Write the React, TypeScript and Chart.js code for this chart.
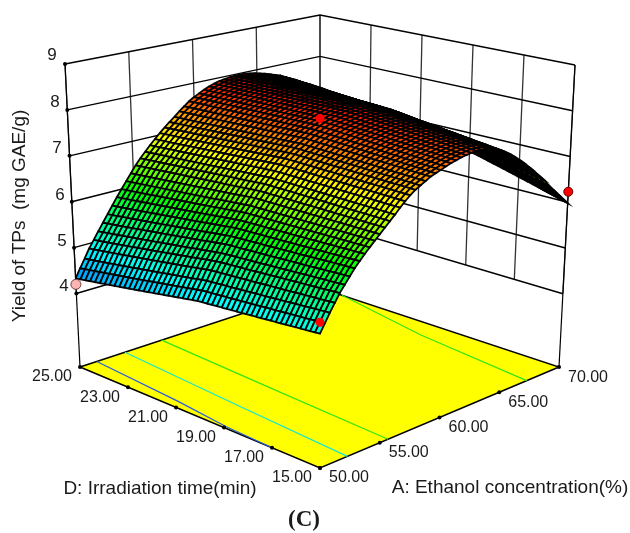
import React, { useEffect, useRef } from "react";
import { Chart, registerables } from "chart.js";

Chart.register(...registerables);

// Axis values
const ethanolTicks = [50, 55, 60, 65, 70];
const timeTicks = [25, 23, 21, 19, 17, 15];
const yieldTicks = [4, 5, 6, 7, 8, 9];
const yieldFloor = 2.4;
const yieldTop = 9;

// Surface height read along three cuts, at 51 mesh columns from A=50 to A=70.
const yieldAtD25 = [4.33,4.52,4.70,4.89,5.05,5.21,5.37,5.53,5.69,5.85,6.00,6.15,6.30,6.45,6.58,6.70,6.82,6.93,7.04,7.14,7.24,7.33,7.43,7.52,7.61,7.68,7.74,7.80,7.85,7.89,7.92,7.94,7.96,7.97,7.97,7.97,7.95,7.93,7.90,7.87,7.83,7.79,7.75,7.69,7.63,7.57,7.50,7.44,7.38,7.31,7.25];
const yieldAtD20 = [4.79,4.97,5.14,5.32,5.48,5.62,5.77,5.91,6.05,6.18,6.31,6.43,6.56,6.68,6.80,6.91,7.02,7.13,7.23,7.32,7.40,7.47,7.55,7.62,7.68,7.74,7.79,7.83,7.87,7.90,7.93,7.94,7.95,7.95,7.94,7.92,7.88,7.84,7.78,7.72,7.65,7.58,7.50,7.41,7.32,7.23,7.12,7.03,6.93,6.83,6.74];
const yieldAtD15 = [5.00,5.17,5.34,5.50,5.66,5.79,5.92,6.05,6.16,6.27,6.37,6.47,6.57,6.67,6.77,6.87,6.98,7.08,7.17,7.25,7.31,7.37,7.43,7.47,7.51,7.55,7.59,7.62,7.65,7.67,7.69,7.70,7.70,7.69,7.66,7.62,7.56,7.50,7.42,7.33,7.23,7.12,7.01,6.89,6.77,6.65,6.50,6.37,6.24,6.11,5.98];

// Design points: [A, D, yield]
const designAbove: number[][] = [[50, 15, 5.22], [70, 25, 6.5]];
const designEdge: number[][] = [[70, 15, 6.23]];
const designBelow: number[][] = [[50, 25, 4.2]];

// Floor contours: [A, D]
const contourBlue = [[51.4, 25], [50.74, 21.3], [50.2, 19], [50, 17]];
const contourCyan = [[53.75, 25], [52.95, 20], [52.3, 15]];
const contourGreenA = [[56.8, 25], [56.2, 20], [55.7, 15]];
const contourGreenB = [[70, 24.08], [68.4, 20], [67.3, 15]];

// Height colour ramp
const rampHeights = [3.6, 4.9, 6.05, 7.0, 8.0];
const rampColours = [[0, 0, 255], [0, 255, 255], [0, 255, 0], [255, 255, 0], [255, 0, 0]];

const MESH = 50;

// Screen frame of the 3D box: bilinear in (A, D), linear in height.
const cornerFloor = { left: [80, 367], back: [320, 288], front: [320, 468], right: [559, 367] };
const cornerTop = { left: [65, 64], back: [320, 15], front: [320, 127], right: [575, 65] };

function project(A: number, D: number, z: number) {
  const a = (A - 50) / 20;
  const d = (25 - D) / 10;
  const t = (z - yieldFloor) / (yieldTop - yieldFloor);
  const bil = (c: any, k: number) =>
    c.left[k] * (1 - a) * (1 - d) + c.back[k] * a * (1 - d) + c.front[k] * (1 - a) * d + c.right[k] * a * d;
  return {
    x: bil(cornerFloor, 0) * (1 - t) + bil(cornerTop, 0) * t,
    y: bil(cornerFloor, 1) * (1 - t) + bil(cornerTop, 1) * t,
  };
}

function heightAt(i: number, j: number) {
  const t = j / MESH;
  return t < 0.5
    ? yieldAtD25[i] + (yieldAtD20[i] - yieldAtD25[i]) * t * 2
    : yieldAtD20[i] + (yieldAtD15[i] - yieldAtD20[i]) * (t - 0.5) * 2;
}

function colourFor(z: number) {
  let k = 0;
  while (k < rampHeights.length - 2 && z > rampHeights[k + 1]) k++;
  const f = Math.max(0, Math.min(1, (z - rampHeights[k]) / (rampHeights[k + 1] - rampHeights[k])));
  const c = rampColours[k].map((v, n) => Math.round(v + (rampColours[k + 1][n] - v) * f));
  return `rgb(${c[0]},${c[1]},${c[2]})`;
}

const lineSet = (data: any[], color: string, width = 1) => ({
  data,
  showLine: true,
  fill: false,
  borderColor: color,
  borderWidth: width,
  pointRadius: 0,
  tension: 0,
});

function buildDatasets() {
  const sets: any[] = [];
  const wall = "#000";

  // walls
  for (const A of ethanolTicks) {
    sets.push(lineSet([project(A, 25, yieldTicks[0]), project(A, 25, yieldTop)], "#333", 1.3));
  }
  for (const D of timeTicks) {
    sets.push(lineSet([project(70, D, yieldTicks[0]), project(70, D, yieldTop)], "#333", 1.3));
  }
  for (const z of yieldTicks) {
    sets.push(lineSet([project(50, 25, z), project(70, 25, z), project(70, 15, z)], wall, 1.4));
  }
  sets.push(lineSet([project(50, 25, yieldFloor), project(50, 25, yieldTop)], wall, 1.2));
  sets.push(lineSet([project(70, 15, yieldFloor), project(70, 15, yieldTop)], wall, 1.2));

  // floor
  sets.push({
    ...lineSet(
      [project(50, 25, yieldFloor), project(70, 25, yieldFloor), project(70, 15, yieldFloor), project(50, 15, yieldFloor), project(50, 25, yieldFloor)],
      "#000",
      1.5
    ),
    fill: "shape",
    backgroundColor: "#ffff00",
  });
  const contours: [number[][], string][] = [
    [contourBlue, "#2a5ce0"],
    [contourCyan, "#14e6d2"],
    [contourGreenA, "#32e614"],
    [contourGreenB, "#32e614"],
  ];
  for (const [pts, col] of contours) {
    sets.push(lineSet(pts.map((p) => project(p[0], p[1], yieldFloor)), col, 1.2));
  }

  // axis tick dots
  const tickPts = [
    ...ethanolTicks.map((A) => project(A, 15, yieldFloor)),
    ...timeTicks.map((D) => project(50, D, yieldFloor)),
    ...yieldTicks.map((z) => project(50, 25, z)),
  ];
  sets.push({ data: tickPts, showLine: false, pointRadius: 2, pointBackgroundColor: "#000", pointBorderWidth: 0 });

  // surface, painted from the far corner to the near one
  for (let i = MESH - 1; i >= 0; i--) {
    for (let j = 0; j < MESH; j++) {
      const Aof = (n: number) => 50 + (20 * n) / MESH;
      const Dof = (n: number) => 25 - (10 * n) / MESH;
      const z00 = heightAt(i, j), z10 = heightAt(i + 1, j), z11 = heightAt(i + 1, j + 1), z01 = heightAt(i, j + 1);
      sets.push({
        data: [
          project(Aof(i), Dof(j), z00),
          project(Aof(i + 1), Dof(j), z10),
          project(Aof(i + 1), Dof(j + 1), z11),
          project(Aof(i), Dof(j + 1), z01),
          project(Aof(i), Dof(j), z00),
        ],
        showLine: true,
        fill: "shape",
        backgroundColor: colourFor((z00 + z10 + z11 + z01) / 4),
        borderColor: "#000",
        borderWidth: 1.8,
        pointRadius: 0,
        tension: 0,
      });
    }
  }

  // design points over the surface
  sets.push({
    data: designBelow.map((p) => project(p[0], p[1], p[2])),
    showLine: false,
    pointRadius: 5,
    pointBackgroundColor: "#ffb4b4",
    pointBorderColor: "#704040",
    pointBorderWidth: 1,
  });
  sets.push({
    data: designAbove.map((p) => project(p[0], p[1], p[2])),
    showLine: false,
    pointRadius: 4.5,
    pointBackgroundColor: "#ff0000",
    pointBorderWidth: 0,
  });
  sets.push({
    data: designEdge.map((p) => project(p[0], p[1], p[2])),
    showLine: false,
    pointRadius: 4.5,
    pointBackgroundColor: "#ff0000",
    pointBorderColor: "#600000",
    pointBorderWidth: 1,
  });

  // Chart.js paints the first dataset last
  return sets.reverse();
}

const labelFont = '"Liberation Sans", Arial, sans-serif';

const textPlugin = {
  id: "axisText",
  afterDraw(chart: any) {
    const ctx = chart.ctx;
    const put = (s: string, x: number, y: number, font: string, rot = 0) => {
      ctx.save();
      ctx.translate(x, y);
      ctx.rotate(rot);
      ctx.font = font;
      ctx.fillStyle = "#1a1a1a";
      ctx.textAlign = "center";
      ctx.textBaseline = "middle";
      ctx.fillText(s, 0, 0);
      ctx.restore();
    };
    const tickFont = `16px ${labelFont}`;
    const zOffsets = [[64, 286], [62, 241], [60, 195], [57, 148], [55, 102], [52, 55]];
    yieldTicks.forEach((v, n) => put(String(v), zOffsets[n][0], zOffsets[n][1], `17px ${labelFont}`));
    timeTicks.forEach((v, n) => put(v.toFixed(2), 52 + n * 48, 377 + n * 20.2, tickFont));
    ethanolTicks.forEach((v, n) => put(v.toFixed(2), 349 + n * 59.75, 478 - n * 25.2, tickFont));
    put("Yield of TPs  (mg GAE/g)", 20, 216, `19px ${labelFont}`, -Math.PI / 2);
    put("D: Irradiation time(min)", 160, 489, `19px ${labelFont}`);
    put("A: Ethanol concentration(%)", 510, 488, `19px ${labelFont}`);
    put("(C)", 304, 520, `bold 23px "Liberation Serif", "Times New Roman", serif`);
  },
};

export default function App() {
  const ref = useRef<HTMLCanvasElement>(null);
  useEffect(() => {
    document.body.style.margin = "0";
    const chart = new Chart(ref.current as HTMLCanvasElement, {
      type: "scatter",
      data: { datasets: buildDatasets() },
      options: {
        animation: false,
        responsive: false,
        parsing: false,
        normalized: true,
        events: [],
        layout: { padding: 0, autoPadding: false },
        plugins: { legend: { display: false }, tooltip: { enabled: false }, title: { display: false } },
        scales: {
          x: { type: "linear", min: 0, max: 630, display: false },
          y: { type: "linear", min: 0, max: 533, reverse: true, display: false },
        },
      } as any,
      plugins: [textPlugin],
    });
    return () => chart.destroy();
  }, []);
  return (
    <canvas
      ref={ref}
      width={630}
      height={533}
      style={{ display: "block", width: 630, height: 533, background: "#fff" }}
    />
  );
}
